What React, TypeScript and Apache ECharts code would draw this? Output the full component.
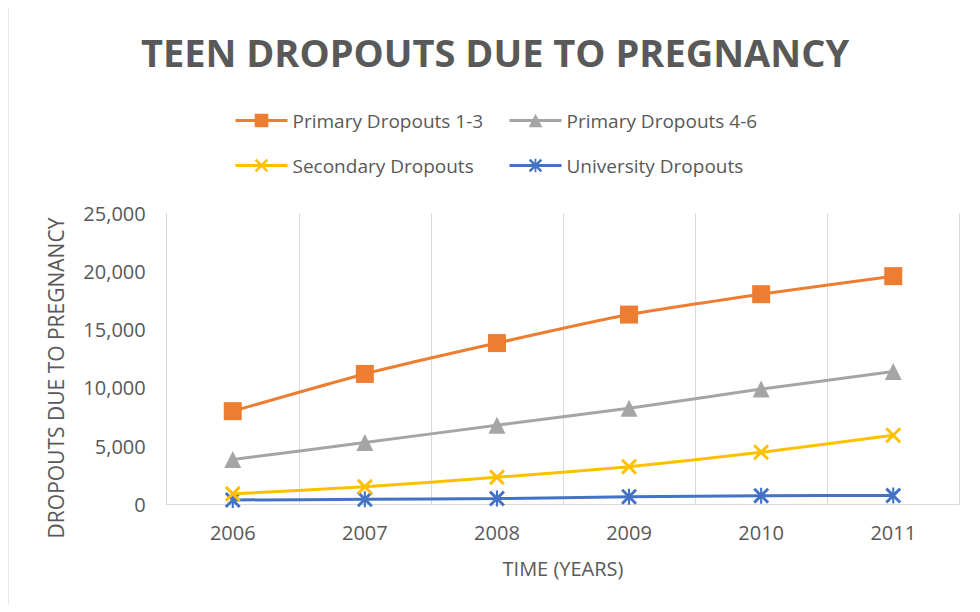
import React, { useEffect, useRef } from "react";
import * as echarts from "echarts";

const years = ["2006", "2007", "2008", "2009", "2010", "2011"];
const primary13 = [8000, 11200, 13850, 16300, 18050, 19600];
const primary46 = [3850, 5300, 6800, 8250, 9900, 11400];
const secondary = [900, 1500, 2320, 3230, 4470, 5930];
const university = [370, 430, 490, 650, 740, 750];
const yTicks = { min: 0, max: 25000, interval: 5000 };

const seriesNames = [
  "Primary Dropouts 1-3",
  "Primary Dropouts 4-6",
  "Secondary Dropouts",
  "University Dropouts",
];
const colors = ["#ED7D31", "#A5A5A5", "#FFC000", "#4472C4"];

const FONT = "'Open Sans', sans-serif";
const TEXT = "#595959";

const xPath =
  "path://M0,1.3L1.3,0L10,8.7L8.7,10Z M8.7,0L10,1.3L1.3,10L0,8.7Z";
const starPath =
  "path://M0,1.3L1.3,0L10,8.7L8.7,10Z M8.7,0L10,1.3L1.3,10L0,8.7Z M4.35,0L5.65,0L5.65,10L4.35,10Z";

export default function App() {
  const ref = useRef<HTMLDivElement>(null);
  useEffect(() => {
    if (!ref.current) return;
    const chart = echarts.init(ref.current, undefined, { renderer: "svg" });
    const datas = [primary13, primary46, secondary, university];
    const symbols = ["rect", "triangle", xPath, starPath];
    const sizes = [18, 17, 16, 16];
    const legendPos = [
      { left: 229, top: 106 },
      { left: 503, top: 106 },
      { left: 229, top: 151 },
      { left: 503, top: 151 },
    ];
    chart.setOption({
      animation: false,
      backgroundColor: "#ffffff",
      title: {
        text: "TEEN DROPOUTS DUE TO PREGNANCY",
        left: 490,
        textAlign: "center",
        top: 28,
        textStyle: {
          fontFamily: FONT,
          fontSize: 38,
          fontWeight: "bold",
          color: TEXT,
        },
      },
      legend: seriesNames.map((n, i) => ({
        data: [n],
        left: legendPos[i].left,
        top: legendPos[i].top,
        itemWidth: 52,
        itemHeight: 17,
        lineStyle: { width: 3 },
        textStyle: { fontFamily: FONT, fontSize: 19, color: TEXT },
      })),
      grid: { left: 166.7, right: 20.7, top: 213.3, bottom: 107.7 },
      xAxis: {
        type: "category",
        data: years,
        boundaryGap: true,
        axisLine: { lineStyle: { color: "#d9d9d9", width: 1 } },
        axisTick: { show: false },
        splitLine: { show: true, lineStyle: { color: "#d9d9d9", width: 1 } },
        axisLabel: {
          fontFamily: FONT,
          fontSize: 20,
          color: TEXT,
          margin: 18,
        },
        name: "TIME (YEARS)",
        nameLocation: "middle",
        nameGap: 54,
        nameTextStyle: { fontFamily: FONT, fontSize: 20, color: TEXT },
      },
      yAxis: {
        type: "value",
        min: yTicks.min,
        max: yTicks.max,
        interval: yTicks.interval,
        axisLine: { show: false },
        axisTick: { show: false },
        splitLine: { show: false },
        axisLabel: {
          fontFamily: FONT,
          fontSize: 20,
          color: TEXT,
          margin: 21,
          formatter: (v: number) => v.toLocaleString("en-US"),
        },
      },
      graphic: {
        elements: [
          {
            type: "polyline",
            silent: true,
            shape: { points: [[7, 612], [7, 5], [980, 5]] },
            style: { stroke: "#cfcfcf", lineWidth: 3, fill: null },
            z: 50,
          },
          {
            type: "text",
            x: 56,
            y: 378,
            rotation: Math.PI / 2,
            style: {
              text: "DROPOUTS DUE TO PREGNANCY",
              fontFamily: FONT,
              fontSize: 21,
              fill: TEXT,
              align: "center",
              verticalAlign: "middle",
            },
          },
        ],
      },
      series: seriesNames.map((n, i) => ({
        name: n,
        type: "line",
        data: datas[i],
        smooth: 0.2,
        symbol: symbols[i],
        symbolSize: sizes[i],
        showSymbol: true,
        lineStyle: { color: colors[i], width: 3 },
        itemStyle: { color: colors[i] },
        z: 10 - i,
      })),
    });
    return () => chart.dispose();
  }, []);
  return <div ref={ref} style={{ width: 980, height: 612, margin: -8 }} />;
}
